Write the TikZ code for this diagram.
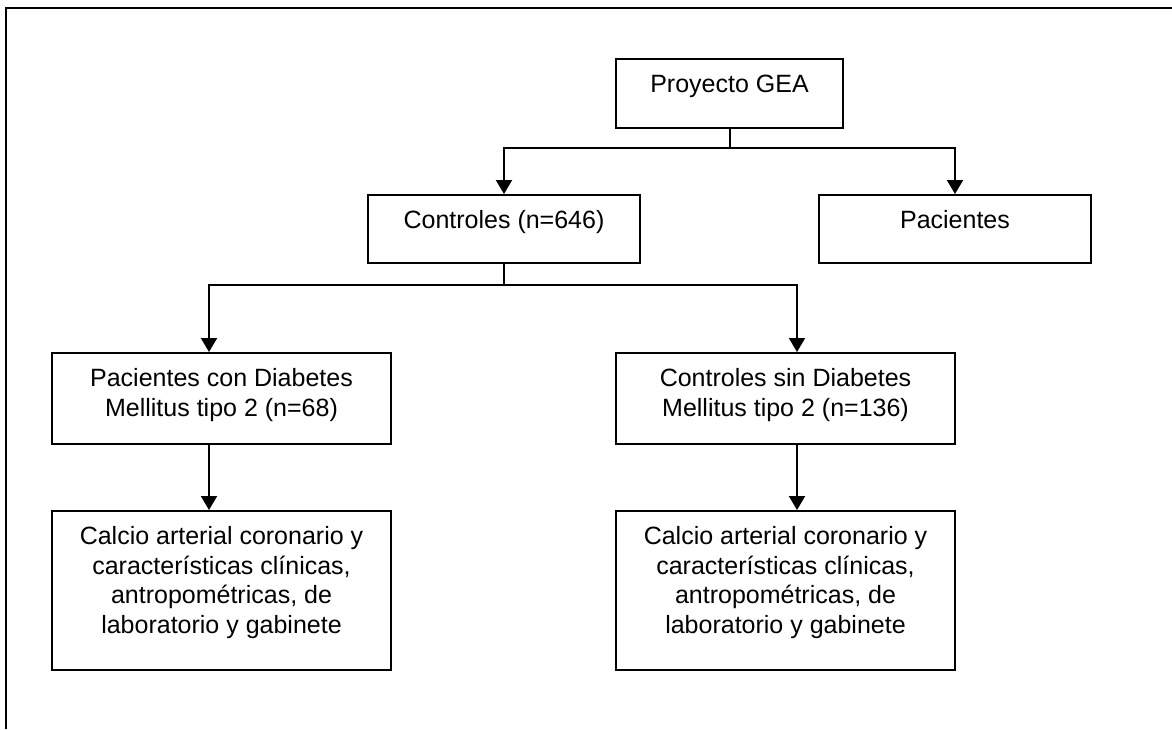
\documentclass[tikz,border=0pt]{standalone}
\usepackage{fontspec}
\setmainfont{Liberation Sans}
\usetikzlibrary{arrows.meta}
\newcommand{\boxtxt}[3]{\parbox[t][#2][t]{#1}{\centering\fontsize{12.5pt}{14.75pt}\selectfont\rule{0pt}{16.75pt}#3}}
\begin{document}
\begin{tikzpicture}[x=0.5pt,y=-0.5pt,
  boxnode/.style={draw, line width=1pt, inner sep=0pt, anchor=north west},
  link/.style={line width=1pt},
  arr/.style={line width=1pt, -{Triangle[width=8pt,length=7pt]}}]
\useasboundingbox (0,0) rectangle (1172,729);
% frame
\draw[line width=1.1pt] (6,729) -- (6,8) -- (1172,8);
% boxes
\node[boxnode] (gea) at (615,58) {\boxtxt{113.5pt}{34.5pt}{Proyecto GEA}};
\node[boxnode] (ctrl) at (367,194) {\boxtxt{136pt}{34pt}{Controles (n=646)}};
\node[boxnode] (pac) at (818,194) {\boxtxt{136pt}{34pt}{Pacientes}};
\node[boxnode] (pdm) at (51,352) {\boxtxt{169.5pt}{45.5pt}{Pacientes con Diabetes\\Mellitus tipo 2 (n=68)}};
\node[boxnode] (cdm) at (615,352) {\boxtxt{169.5pt}{45.5pt}{Controles sin Diabetes\\Mellitus tipo 2 (n=136)}};
\node[boxnode] (cal1) at (51,510) {\boxtxt{169.5pt}{79.5pt}{Calcio arterial coronario y\\caracter\'isticas cl\'inicas,\\antropom\'etricas, de\\laboratorio y gabinete}};
\node[boxnode] (cal2) at (615,510) {\boxtxt{169.5pt}{79.5pt}{Calcio arterial coronario y\\caracter\'isticas cl\'inicas,\\antropom\'etricas, de\\laboratorio y gabinete}};
% connectors
\coordinate (j1) at (gea.south |- 0,148);
\coordinate (j2) at (ctrl.south |- 0,285);
\draw[link] (gea.south) -- (j1);
\draw[arr] (j1) -| (ctrl.north);
\draw[arr] (j1) -| (pac.north);
\draw[link] (ctrl.south) -- (j2);
\draw[arr] (j2) -| ([xshift=79pt]pdm.north west);
\draw[arr] (j2) -| ([xshift=91pt]cdm.north west);
\draw[arr] ([xshift=79pt]pdm.south west) -- ([xshift=79pt]cal1.north west);
\draw[arr] ([xshift=91pt]cdm.south west) -- ([xshift=91pt]cal2.north west);
\end{tikzpicture}
\end{document}
